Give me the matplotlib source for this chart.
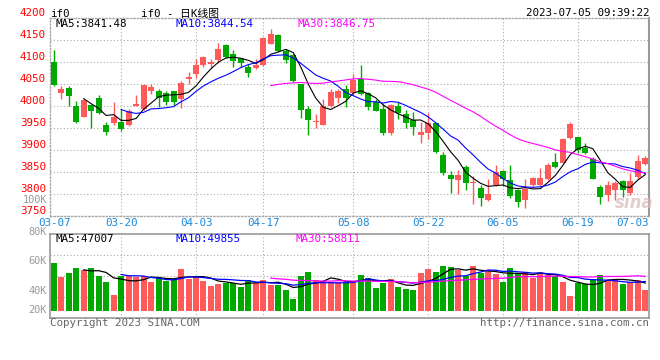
import matplotlib
matplotlib.use('Agg')
import matplotlib.pyplot as plt
import matplotlib.transforms as mtrans
import numpy as np
import pandas as pd

# ---------------- data ----------------
dates = (['03-%02d' % d for d in [7, 8, 9, 10, 13, 14, 15, 16, 17, 20, 21, 22, 23, 24, 27, 28, 29, 30, 31]] +
         ['04-%02d' % d for d in [3, 4, 6, 7, 10, 11, 12, 13, 14, 17, 18, 19, 20, 21, 24, 25, 26, 27, 28]] +
         ['05-%02d' % d for d in [4, 5, 8, 9, 10, 11, 12, 15, 16, 17, 18, 19, 22, 23, 24, 25, 26, 29, 30, 31]] +
         ['06-%02d' % d for d in [1, 2, 5, 6, 7, 8, 9, 12, 13, 14, 15, 16, 19, 20, 21, 26, 27, 28, 29, 30]] +
         ['07-%02d' % d for d in [3, 4]])

opens = [4098.5, 4028, 4039, 3998.5, 3973, 4001.5, 4017.5, 3956.5, 3960, 3963,
         3956.5, 3998.5, 3991, 4034, 4033.6, 4029, 4032, 4013.7, 4061, 4072,
         4091.6, 4094.7, 4104, 4137, 4117, 4107.6, 4088, 4085.5, 4091.6, 4140.5,
         4160, 4123.7, 4114.5, 4048, 3993, 3962, 3956.5, 3998.5, 4017, 4038,
         4028, 4061, 4029, 4009, 3991, 3936.6, 4000, 3981.7, 3968, 3933.6,
         3936.6, 3959.5, 3887.8, 3842, 3829.8, 3860, 3823, 3812, 3784.7, 3820,
         3851, 3830.5, 3809, 3785.5, 3820, 3820, 3832, 3872.5, 3870, 3926.7,
         3929, 3902.3, 3878, 3814.5, 3797, 3807.6, 3828, 3801.5, 3837.4, 3868]
highs = [4126, 4044, 4043.5, 4011, 4015, 4004, 4024, 3963, 4009, 3991,
         3992, 4023, 4047, 4048, 4036.6, 4032, 4034, 4056.5, 4076, 4104.6,
         4113, 4104.6, 4142, 4140.5, 4126, 4109, 4095, 4105, 4156, 4174,
         4162.6, 4128, 4117, 4050, 4000, 3981, 4013.7, 4038, 4038, 4047,
         4071, 4091.6, 4030.5, 4013.7, 4004, 4004, 4009, 3990, 3984.7, 3963,
         3983, 3961, 3894.7, 3851, 3853.4, 3865, 3839.7, 3818.3, 3832, 3865,
         3853.4, 3865, 3810.7, 3833.6, 3838, 3858.8, 3870, 3891, 3926, 3962,
         3929, 3913.7, 3884, 3819, 3828, 3828, 3830.5, 3847, 3888, 3885.5]
lows = [4044, 4015, 3998.5, 3960, 3973, 3950, 3981, 3933, 3956.5, 3943,
        3954, 3998, 3990, 4027, 3996, 4001.5, 4001.5, 3994, 4050, 4062.6,
        4088, 4085.5, 4096, 4108, 4088, 4088, 4065, 4082.5, 4090, 4140,
        4122, 4097, 4053.4, 3971, 3934, 3948, 3956, 3997, 4006, 3996,
        4023, 4025, 3990, 3988, 3934, 3934, 3969.5, 3950, 3934, 3913.7,
        3925, 3893, 3842, 3801.5, 3800, 3807, 3776, 3771, 3782.4, 3818,
        3818, 3790, 3769.5, 3767, 3818, 3818, 3830, 3859, 3868.7, 3925,
        3893, 3889.3, 3832, 3776, 3782.4, 3785, 3792.4, 3797.7, 3834, 3865]
closes = [4045.8, 4036.6, 4021, 3963, 4011.5, 3988.5, 3983, 3940.5, 3973, 3946,
          3988.5, 4004.5, 4046, 4042, 4018, 4007.6, 4007.6, 4052, 4064, 4091.6,
          4111, 4098.5, 4128, 4110.7, 4101.5, 4097.7, 4075, 4093, 4154, 4162.6,
          4124.4, 4104, 4055.7, 3990, 3968, 3965.6, 4000, 4031, 4034, 4017,
          4059, 4026.7, 3996, 3988.5, 3936.6, 4002, 3983, 3959.5, 3952, 3939,
          3959.5, 3895.4, 3847.3, 3833.6, 3842, 3824.4, 3826.7, 3789.3, 3799.2, 3849.6,
          3832, 3794, 3781, 3810.7, 3834.4, 3835, 3865, 3861, 3924.4, 3958.8,
          3899, 3893, 3833.6, 3791.6, 3819, 3824.4, 3807, 3828, 3874, 3881]
volumes = [60000, 48300, 51700, 55800, 54200, 55800, 49200, 44200, 33300, 49200,
           49200, 48300, 49200, 44200, 47500, 45000, 46700, 55000, 46700, 48300,
           45000, 40800, 42500, 43300, 43300, 40000, 45800, 43300, 45800, 41700,
           41700, 37500, 30000, 49200, 52500, 45800, 45000, 43900, 43900, 43300,
           44700, 50000, 47500, 39200, 43300, 46400, 39700, 38300, 37500, 51700,
           54700, 52200, 57500, 56400, 53600, 49200, 57500, 51700, 53900, 50800,
           43900, 55600, 51100, 52200, 47200, 51400, 49700, 49200, 43900, 32500,
           43300, 42200, 46700, 49700, 45600, 45800, 42500, 43900, 45600, 37500]

tick_dates = ['03-07', '03-20', '04-03', '04-17', '05-08', '05-22', '06-05', '06-19', '07-03']
grid_dates = ['03-20', '04-03', '04-17', '05-08', '05-22', '06-05', '06-19']
price_ticks = [3750, 3800, 3850, 3900, 3950, 4000, 4050, 4100, 4150, 4200]
price_grid = [3800, 3850, 3900, 3950, 4000, 4050, 4100, 4150]
vol_labels = ['80K', '60K', '40K', '20K']
ma_periods = [5, 10, 30]
price_ma_text = ['MA5:3841.48', 'MA10:3844.54', 'MA30:3846.75']
vol_ma_text = ['MA5:47007', 'MA10:49855', 'MA30:58811']

# ---------------- style ----------------
W, H = 660, 360
RED = '#ff5a5a'
GREEN = '#00a800'
MA_COLORS = ['#000000', '#0000ff', '#ff00ff']
GRID = '#aaaaaa'
FS = 7.8

plt.rcParams['font.family'] = ['DejaVu Sans Mono', 'Noto Sans CJK SC']

fig = plt.figure(figsize=(W / 100, H / 100), dpi=100)
fig.patch.set_facecolor('white')


def fx(px):
    return px / W


def fy(py):
    return 1 - py / H


ax = fig.add_axes([fx(50), fy(215.5), fx(649) - fx(50), fy(17.5) - fy(215.5)])
axv = fig.add_axes([fx(50), fy(318), fx(649) - fx(50), fy(234) - fy(318)])

n = len(dates)
x = np.arange(n)
o = np.array(opens)
c = np.array(closes)
h = np.array(highs)
l = np.array(lows)
v = np.array(volumes)
up = c >= o
cols = np.where(up, RED, GREEN)

# ---- main price panel ----
for yv in price_grid:
    ax.axhline(yv, color=GRID, lw=0.8, ls=(0, (1, 2)), zorder=0)
gx = [dates.index(d) for d in grid_dates]
for xi in gx:
    ax.axvline(xi, color=GRID, lw=0.8, ls=(0, (1, 2)), zorder=0)
    axv.axvline(xi, color=GRID, lw=0.8, ls=(0, (1, 2)), zorder=0)

ax.vlines(x, l, h, colors=cols, lw=1.0, zorder=2)
body_h = np.maximum(np.abs(c - o), 1.2)
ax.bar(x, body_h, bottom=np.minimum(o, c), width=0.8, color=cols, lw=0, zorder=3)

cs = pd.Series(c)
for p, col in zip(ma_periods, MA_COLORS):
    ax.plot(x, cs.rolling(p).mean(), color=col, lw=0.8, zorder=4)

ax.set_xlim(-0.5, n - 0.5)
ax.set_ylim(3750, 4200)
ax.set_yticks(price_ticks)
ax.set_yticklabels([str(t) for t in price_ticks], color='#ff0000', fontsize=FS)
for t in ax.get_yticklabels():
    t.set_va('bottom')
ax.tick_params(axis='y', length=0, pad=3)
tx = [dates.index(d) for d in tick_dates]
ax.set_xticks(tx)
ax.set_xticklabels(tick_dates, color='#1a88d8', fontsize=FS)
ax.tick_params(axis='x', length=0, pad=1.5)
xl = ax.get_xticklabels()
xl[0].set_ha('left')
xl[-1].set_ha('right')
xl[0].set_transform(xl[0].get_transform() + mtrans.ScaledTranslation(-15 / 100, 0, fig.dpi_scale_trans))
xl[-1].set_transform(xl[-1].get_transform() + mtrans.ScaledTranslation(11 / 100, 0, fig.dpi_scale_trans))

for side in ['top', 'left', 'bottom']:
    ax.spines[side].set_color(GRID)
    ax.spines[side].set_linestyle((0, (1, 1.5)))
    ax.spines[side].set_linewidth(1.0)
ax.spines['right'].set_color('#999999')
ax.spines['right'].set_linewidth(1.5)

# ---- volume panel ----
vbase = 20000
axv.bar(x, v - vbase, bottom=vbase, width=0.8, color=cols, lw=0, zorder=2)
vs = pd.Series(v)
for p, col in zip(ma_periods, MA_COLORS):
    axv.plot(x, vs.rolling(p).mean(), color=col, lw=0.9, zorder=3)
axv.set_xlim(-0.5, n - 0.5)
axv.set_ylim(13900, 83900)
for f in [0.25, 0.5, 0.75]:
    axv.plot([0, 1], [f, f], transform=axv.transAxes, color=GRID, lw=0.8, ls=(0, (1, 2)), zorder=0)
axv.set_xticks([])
axv.set_yticks([])
for side in axv.spines:
    axv.spines[side].set_color('#999999')
    axv.spines[side].set_linewidth(1.2)

# ---- texts ----
fig.text(fx(50), fy(17), 'if0', fontsize=FS, va='baseline', ha='left', color='black')
fig.text(fx(141), fy(17), 'if0 - 日K线图', fontsize=FS, va='baseline', ha='left', color='black')
fig.text(fx(649), fy(15.5), '2023-07-05 09:39:22', fontsize=FS, va='baseline', ha='right', color='black')

ma_x = [55, 175, 298]
for t, xp, col in zip(price_ma_text, ma_x, MA_COLORS):
    fig.text(fx(xp), fy(24), t, fontsize=FS, va='center', ha='left', color=col)
vma_x = [55, 175, 295]
for t, xp, col in zip(vol_ma_text, vma_x, MA_COLORS):
    fig.text(fx(xp), fy(238.5), t, fontsize=FS, va='center', ha='left', color=col)

vol_label_y = [232, 261, 290.5, 310]
for t, yp in zip(vol_labels, vol_label_y):
    fig.text(fx(47), fy(yp), t, fontsize=FS - 0.4, va='center', ha='right', color='#999999')
fig.text(fx(47), fy(200), '100K', fontsize=FS - 0.4, va='center', ha='right', color='#999999')

fig.text(fx(50), fy(323), 'Copyright 2023 SINA.COM', fontsize=FS, va='center', ha='left', color='#666666')
fig.text(fx(649), fy(323), 'http://finance.sina.com.cn', fontsize=FS, va='center', ha='right', color='#666666')
fig.text(fx(634), fy(203), 'sina', fontsize=12, style='italic', weight='bold', family=['DejaVu Sans'],
         va='center', ha='center', color='#d8b8b8', alpha=0.7)

fig.savefig('out.png', dpi=100, facecolor='white')
